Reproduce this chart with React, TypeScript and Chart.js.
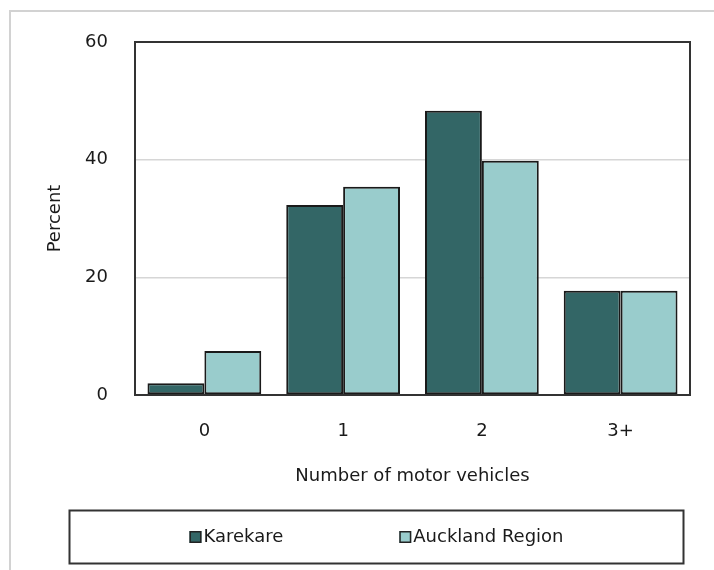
import React, { useEffect, useRef } from 'react';
import { Chart, registerables } from 'chart.js';

Chart.register(...registerables);

const categories = ['0', '1', '2', '3+'];
const karekare = [2.0, 32.3, 48.3, 17.7];
const auckland = [7.5, 35.4, 39.8, 17.7];
const seriesLabels = ['Karekare', 'Auckland Region'];
const seriesColors = ['#336666', '#99CCCC'];
const yTicks = [0, 20, 40, 60];
const xTitle = 'Number of motor vehicles';
const yTitle = 'Percent';

const FONT = '"DejaVu Sans", sans-serif';
const TEXT = '#1a1a1a';

const framePlugin = {
  id: 'frame',
  afterDatasetsDraw(chart: any) {
    const { ctx, chartArea } = chart;
    ctx.save();
    ctx.strokeStyle = '#333333';
    ctx.lineWidth = 2;
    ctx.strokeRect(chartArea.left, chartArea.top, chartArea.right - chartArea.left, chartArea.bottom - chartArea.top);
    ctx.restore();
  },
};

const boxLegendPlugin = {
  id: 'boxLegend',
  afterDraw(chart: any) {
    const { ctx } = chart;
    const bx = 69.5, by = 510.5, bw = 614, bh = 53;
    ctx.save();
    ctx.strokeStyle = '#333333';
    ctx.lineWidth = 2;
    ctx.strokeRect(bx, by, bw, bh);
    ctx.font = `18px ${FONT}`;
    ctx.textBaseline = 'middle';
    ctx.textAlign = 'left';
    const box = 12;
    const gapText = 2;
    const gapItems = 116;
    const ds = chart.data.datasets;
    const widths = ds.map((d: any) => box + gapText + ctx.measureText(d.label).width);
    const total = widths.reduce((a: number, b: number) => a + b, 0) + gapItems * (ds.length - 1);
    let x = bx + bw / 2 - total / 2;
    const cy = by + bh / 2;
    ds.forEach((d: any, i: number) => {
      ctx.fillStyle = d.backgroundColor;
      ctx.fillRect(x, cy - box / 2, box, box);
      ctx.strokeStyle = '#222222';
      ctx.lineWidth = 1.5;
      ctx.strokeRect(x + 0.75, cy - box / 2 + 0.75, box - 1.5, box - 1.5);
      ctx.fillStyle = TEXT;
      ctx.fillText(d.label, x + box + gapText, cy);
      x += widths[i] + gapItems;
    });
    ctx.restore();
  },
};

export default function App() {
  const ref = useRef<HTMLCanvasElement | null>(null);

  useEffect(() => {
    if (!ref.current) return;
    const chart = new Chart(ref.current, {
      type: 'bar',
      data: {
        labels: categories,
        datasets: [
          {
            label: seriesLabels[0],
            data: karekare,
            backgroundColor: seriesColors[0],
            borderColor: '#1a1a1a',
            borderWidth: 2,
            borderSkipped: false,
          },
          {
            label: seriesLabels[1],
            data: auckland,
            backgroundColor: seriesColors[1],
            borderColor: '#1a1a1a',
            borderWidth: 2,
            borderSkipped: false,
          },
        ],
      },
      options: {
        animation: false,
        responsive: false,
        devicePixelRatio: 1,
        layout: { padding: { left: 0, top: 42, right: 24, bottom: 83.2 } },
        datasets: { bar: { categoryPercentage: 0.82, barPercentage: 1.0 } },
        plugins: {
          legend: { display: false },
          tooltip: { enabled: false },
        },
        scales: {
          x: {
            grid: { display: false, drawTicks: false },
            border: { display: false },
            ticks: { color: TEXT, font: { family: FONT, size: 18 }, padding: 25.7 },
            title: {
              display: true,
              text: xTitle,
              color: TEXT,
              font: { family: FONT, size: 18 },
              padding: { top: 0, bottom: 0 },
            },
            afterFit(scale: any) {
              scale.height = 91.8;
            },
          },
          y: {
            min: 0,
            max: 60,
            grid: { color: '#d6d6d6', lineWidth: 1.5, drawTicks: false },
            border: { display: false },
            ticks: { stepSize: 20, color: TEXT, font: { family: FONT, size: 18 }, padding: 27 },
            afterBuildTicks(scale: any) {
              scale.ticks = yTicks.map((v) => ({ value: v }));
            },
            title: {
              display: true,
              text: yTitle,
              color: TEXT,
              font: { family: FONT, size: 18 },
              padding: { top: 44.7, bottom: 0 },
            },
            afterFit(scale: any) {
              scale.width = 135;
            },
          },
        },
      },
      plugins: [framePlugin, boxLegendPlugin],
    });
    return () => chart.destroy();
  }, []);

  return (
    <div style={{ position: 'fixed', left: 0, top: 0, width: 714, height: 570, background: '#ffffff', overflow: 'hidden' }}>
      <div
        style={{
          position: 'absolute',
          left: 9,
          top: 10,
          width: 720,
          height: 580,
          borderLeft: '2px solid #d2d2d2',
          borderTop: '2px solid #d2d2d2',
        }}
      />
      <canvas ref={ref} width={714} height={570} style={{ position: 'absolute', left: 0, top: 0, width: 714, height: 570 }} />
    </div>
  );
}
